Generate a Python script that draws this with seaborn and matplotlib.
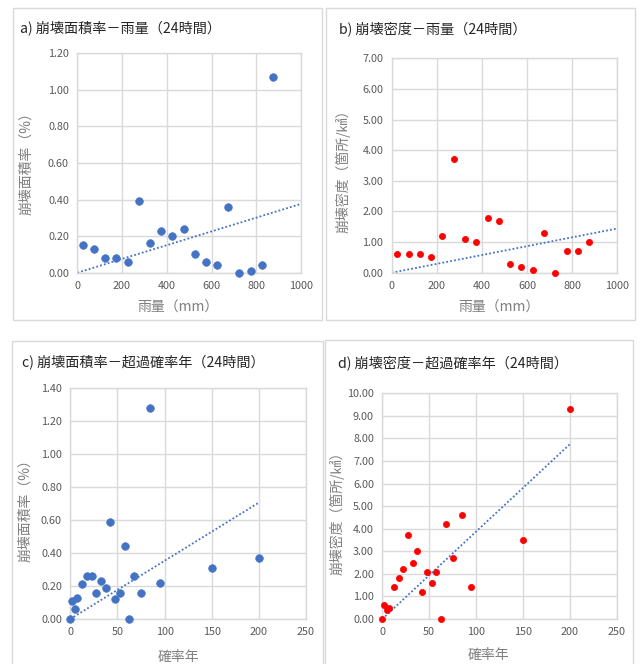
import numpy as np
import pandas as pd
import matplotlib
matplotlib.use("Agg")
import matplotlib.pyplot as plt
import seaborn as sns
from matplotlib.patches import Rectangle
from matplotlib.ticker import FormatStrFormatter, MultipleLocator

sns.set_theme(style="white")
plt.rcParams['font.family'] = ['Noto Sans CJK JP', 'DejaVu Sans']

# ---- data ----
rain_mm = [25, 75, 125, 175, 225, 275, 325, 375, 425, 475, 525, 575, 625, 675, 725, 775, 825, 875]
area_rate_rain = [0.15, 0.13, 0.08, 0.08, 0.06, 0.39, 0.16, 0.23, 0.20, 0.24, 0.10, 0.06, 0.04, 0.36, 0.00, 0.01, 0.04, 1.07]
density_rain = [0.6, 0.6, 0.6, 0.5, 1.2, 3.7, 1.1, 1.0, 1.8, 1.7, 0.3, 0.2, 0.08, 1.3, 0.0, 0.7, 0.7, 1.0]

return_year = [0, 2, 4.5, 7.5, 12.5, 17.5, 22.5, 27.5, 32.5, 37.5, 42.5, 47.5, 52.5, 57.5, 62.5, 67.5, 75, 85, 95, 150, 200]
area_rate_year = [0.00, 0.11, 0.06, 0.13, 0.21, 0.26, 0.26, 0.16, 0.23, 0.19, 0.59, 0.12, 0.16, 0.44, 0.00, 0.26, 0.16, 1.28, 0.22, 0.31, 0.37]
density_year = [0.0, 0.6, 0.4, 0.5, 1.4, 1.8, 2.2, 3.7, 2.5, 3.0, 1.2, 2.1, 1.6, 2.1, 0.0, 4.2, 2.7, 4.6, 1.4, 3.5, 9.3]

titles = ["a) 崩壊面積率－雨量（24時間）", "b) 崩壊密度－雨量（24時間）",
          "c) 崩壊面積率－超過確率年（24時間）", "d) 崩壊密度－超過確率年（24時間）"]
xlabels = ["雨量（mm）", "雨量（mm）", "確率年", "確率年"]
ylabels = ["崩壊面積率（%）", "崩壊密度（箇所/㎢）", "崩壊面積率（%）", "崩壊密度（箇所/㎢）"]

W, H = 641, 664
fig = plt.figure(figsize=(W / 100, H / 100), dpi=100)
fig.patch.set_facecolor("white")

def fx(px):
    return px / W

def fy(py):
    return 1 - py / H

# panel borders (x0, y0, x1, y1) in pixels
borders = [(12.5, 8, 322, 320), (326, 8, 635, 320), (12, 341, 323, 700), (325, 340, 633, 700)]
for (x0, y0, x1, y1) in borders:
    fig.patches.append(Rectangle((fx(x0), fy(y1)), fx(x1) - fx(x0), fy(y0) - fy(y1),
                                 transform=fig.transFigure, facecolor="none",
                                 edgecolor="#d9d9d9", linewidth=1.0, zorder=0))

# axes plot areas in pixels (left, top, right, bottom)
areas = [(77.3, 53.3, 301, 272.7), (391.7, 58.3, 617.3, 272.7),
         (70.3, 387.7, 306, 619), (382.3, 393.3, 616.7, 619)]

panels = [
    (rain_mm, area_rate_rain, "#4472C4", 30, (0, 1000), 200, (0, 1.2), 0.2, (0, 1000)),
    (rain_mm, density_rain, "#FF0000", 20, (0, 1000), 200, (0, 7), 1.0, (0, 1000)),
    (return_year, area_rate_year, "#4472C4", 30, (0, 250), 50, (0, 1.4), 0.2, (0, 200)),
    (return_year, density_year, "#FF0000", 20, (0, 250), 50, (0, 10), 1.0, (0, 200)),
]

title_pos = [(20, 28), (339, 29), (22, 362), (338, 363)]
xlab_pos = [(178, 308), (499, 308), (178, 657), (488, 655)]
ylab_pos = [(26, 160), (343, 168), (25, 507), (337, 510)]

for i, (xs, ys, color, size, xlim, xstep, ylim, ystep, trange) in enumerate(panels):
    l, t, r, b = areas[i]
    ax = fig.add_axes([fx(l), fy(b), fx(r) - fx(l), fy(t) - fy(b)])
    df = pd.DataFrame({"x": xs, "y": ys})
    # trendline: linear fit through origin
    xa = np.asarray(xs, dtype=float)
    ya = np.asarray(ys, dtype=float)
    slope = (xa * ya).sum() / (xa * xa).sum()
    tx = np.array(trange, dtype=float)
    tdf = pd.DataFrame({"x": tx, "y": slope * tx})
    sns.lineplot(data=tdf, x="x", y="y", ax=ax, color="#4472C4", linestyle=(0, (1, 1.2)),
                 linewidth=1.3, zorder=2)
    sns.scatterplot(data=df, x="x", y="y", ax=ax, color=color, s=size, edgecolor=color,
                    linewidth=0.5, zorder=3, clip_on=False)
    ax.set_xlim(*xlim)
    ax.set_ylim(*ylim)
    ax.xaxis.set_major_locator(MultipleLocator(xstep))
    ax.yaxis.set_major_locator(MultipleLocator(ystep))
    ax.yaxis.set_major_formatter(FormatStrFormatter("%.2f"))
    ax.grid(True, color="#d9d9d9", linewidth=1.0)
    ax.set_axisbelow(True)
    for sp in ax.spines.values():
        sp.set_color("#d9d9d9")
        sp.set_linewidth(1.0)
    ax.tick_params(axis="both", length=0, labelsize=7.8, colors="#595959", pad=6)
    ax.set_xlabel(xlabels[i], fontsize=10, color="#7f7f7f")
    ax.set_ylabel(ylabels[i], fontsize=10, color="#7f7f7f")
    ax.xaxis.set_label_coords(fx(xlab_pos[i][0]), fy(xlab_pos[i][1]), transform=fig.transFigure)
    ax.yaxis.set_label_coords(fx(ylab_pos[i][0]), fy(ylab_pos[i][1]), transform=fig.transFigure)
    ax.xaxis.label.set_va("center")
    ax.yaxis.label.set_va("center")
    fig.text(fx(title_pos[i][0]), fy(title_pos[i][1]), titles[i], fontsize=10.2,
             color="#262626", ha="left", va="center")

fig.savefig("out.png", dpi=100, facecolor="white")
